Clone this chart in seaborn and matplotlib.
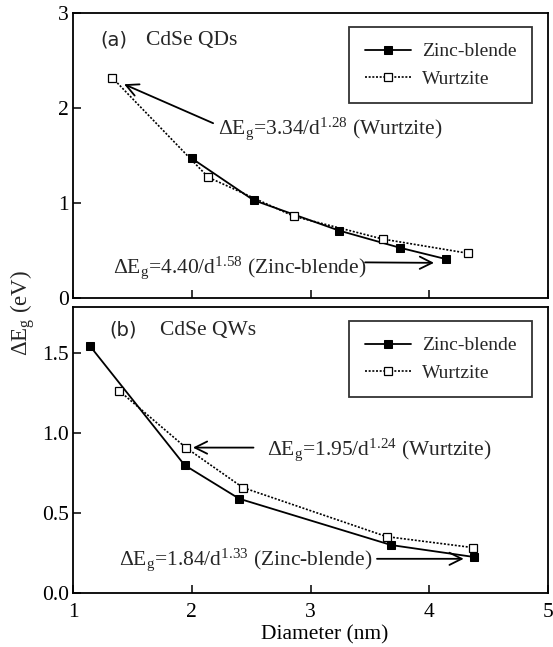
import matplotlib
matplotlib.use("Agg")
import matplotlib.pyplot as plt
import seaborn as sns
import pandas as pd
from matplotlib.ticker import FormatStrFormatter

# ---- data ----
qd_zb_d = [2.00, 2.52, 3.24, 3.75, 4.14]
qd_zb_e = [1.47, 1.03, 0.71, 0.53, 0.41]
qd_wz_d = [1.33, 2.14, 2.86, 3.61, 4.33]
qd_wz_e = [2.32, 1.27, 0.86, 0.62, 0.47]

qw_zb_d = [1.145, 1.94, 2.40, 3.68, 4.38]
qw_zb_e = [1.544, 0.80, 0.59, 0.30, 0.225]
qw_wz_d = [1.39, 1.95, 2.43, 3.64, 4.37]
qw_wz_e = [1.265, 0.91, 0.66, 0.353, 0.284]

series_names = ["Zinc-blende", "Wurtzite"]
x_ticks = [1, 2, 3, 4, 5]
top_yticks = [0, 1, 2, 3]
bot_yticks = [0.0, 0.5, 1.0, 1.5]

sns.set_theme(style="white")
plt.rcParams["font.family"] = ["Liberation Serif", "DejaVu Serif"]
plt.rcParams["mathtext.fontset"] = "custom"
plt.rcParams["mathtext.rm"] = "Liberation Serif"
plt.rcParams["mathtext.it"] = "Liberation Serif"
plt.rcParams["mathtext.default"] = "regular"

W, H = 553, 647
fig = plt.figure(figsize=(W / 100, H / 100), dpi=100)
left = 73 / W
width = (548 - 73) / W
ax1 = fig.add_axes([left, 1 - 298 / H, width, 285 / H])
ax2 = fig.add_axes([left, 1 - 593 / H, width, 286 / H])

FS_LEG = 14
FS_TICK = 15.5
FS_TXT = 15.5


def draw(ax, zbd, zbe, wzd, wze):
    dzb = pd.DataFrame({"d": zbd, "e": zbe})
    dwz = pd.DataFrame({"d": wzd, "e": wze})
    sns.lineplot(data=dzb, x="d", y="e", ax=ax, color="black", lw=1.3,
                 marker="s", markersize=5.5, markerfacecolor="black",
                 markeredgecolor="black", label=series_names[0])
    sns.lineplot(data=dwz, x="d", y="e", ax=ax, color="black", lw=1.2,
                 linestyle=(0, (1.2, 1.0)), marker="s", markersize=5.5,
                 markerfacecolor="white", markeredgecolor="black",
                 markeredgewidth=0.9, label=series_names[1])
    ax.set_xlim(1, 5)
    ax.set_xticks(x_ticks)
    ax.set_xlabel("")
    ax.set_ylabel("")
    for s in ax.spines.values():
        s.set_color("black")
        s.set_linewidth(1.3)
    ax.tick_params(direction="in", length=6, width=1.1, labelsize=FS_TICK,
                   colors="black", bottom=True, left=True, pad=3)
    ax.tick_params(axis="x", pad=7)
    leg = ax.legend(loc="upper right", bbox_to_anchor=(0.967, 0.95),
                    fontsize=FS_LEG, frameon=True, fancybox=False,
                    edgecolor="black", handlelength=2.35, borderpad=0.8,
                    labelspacing=0.5, handletextpad=0.6, borderaxespad=0)
    leg.get_frame().set_linewidth(1.3)


draw(ax1, qd_zb_d, qd_zb_e, qd_wz_d, qd_wz_e)
draw(ax2, qw_zb_d, qw_zb_e, qw_wz_d, qw_wz_e)

ax1.set_ylim(0, 3)
ax1.set_yticks(top_yticks)
ax1.tick_params(labelbottom=False)
ax2.set_ylim(0, 1.79)
ax2.set_yticks(bot_yticks)
ax2.yaxis.set_major_formatter(FormatStrFormatter("%.1f"))
ax2.set_xlabel("Diameter (nm)", fontsize=FS_TXT, color="black")
ax2.xaxis.set_label_coords((325 - 73) / 475, -(639 - 593) / 286)
ax2.xaxis.label.set_va("baseline")

# panel labels
ax1.text((100 - 73) / 475, 1 - (45 - 13) / 285, "(a)", transform=ax1.transAxes,
         fontsize=14, family="DejaVu Sans", va="baseline", ha="left")
ax1.text((146 - 73) / 475, 1 - (45 - 13) / 285, "CdSe QDs", transform=ax1.transAxes,
         fontsize=FS_TXT, va="baseline", ha="left")
ax2.text((109 - 73) / 475, 1 - (335 - 307) / 286, "(b)", transform=ax2.transAxes,
         fontsize=14, family="DejaVu Sans", va="baseline", ha="left")
ax2.text((160 - 73) / 475, 1 - (335 - 307) / 286, "CdSe QWs", transform=ax2.transAxes,
         fontsize=FS_TXT, va="baseline", ha="left")

ap = dict(arrowstyle="->", lw=1.3, color="black", mutation_scale=22,
          shrinkA=0, shrinkB=0)

# annotations (arrows)
ax1.annotate("", xy=(1.43, 2.25), xytext=(2.18, 1.84), arrowprops=ap)
ax1.text(2.22, 1.73, r"$\Delta E_g$=3.34/d$^{1.28}$ (Wurtzite)",
         fontsize=FS_TXT, va="baseline", ha="left")
ax1.annotate("", xy=(4.04, 0.37), xytext=(3.46, 0.375), arrowprops=ap)
ax1.text(1.34, 0.27, r"$\Delta E_g$=4.40/d$^{1.58}$ (Zinc-blende)",
         fontsize=FS_TXT, va="baseline", ha="left")

ax2.annotate("", xy=(2.01, 0.91), xytext=(2.52, 0.91), arrowprops=ap)
ax2.text(2.63, 0.865, r"$\Delta E_g$=1.95/d$^{1.24}$ (Wurtzite)",
         fontsize=FS_TXT, va="baseline", ha="left")
ax2.annotate("", xy=(4.29, 0.214), xytext=(3.56, 0.214), arrowprops=ap)
ax2.text(1.39, 0.175, r"$\Delta E_g$=1.84/d$^{1.33}$ (Zinc-blende)",
         fontsize=FS_TXT, va="baseline", ha="left")

fig.text(23 / W, 1 - 313 / H, r"$\Delta E_g$ (eV)", rotation=90,
         fontsize=16.5, ha="center", va="center")

fig.savefig("out.png", dpi=100, facecolor="white")
